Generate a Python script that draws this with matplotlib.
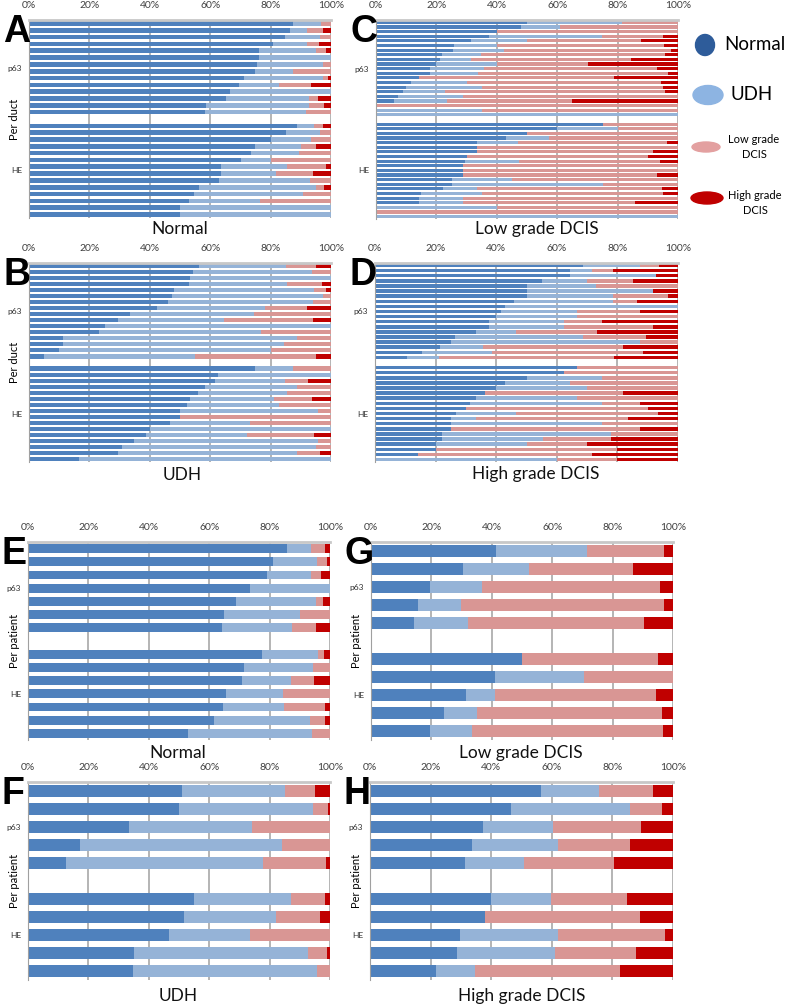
import numpy as np
import matplotlib
matplotlib.use("Agg")
import matplotlib.pyplot as plt
from matplotlib.patches import Ellipse

plt.rcParams['font.family'] = ['Lato', 'DejaVu Sans']

# segment order: Normal, UDH, Low grade DCIS, High grade DCIS (percent)
categories = ['Normal', 'UDH', 'Low grade\nDCIS', 'High grade\nDCIS']
colors = ['#4F81BD', '#95B3D7', '#D99694', '#C00000']
xticks = [0, 20, 40, 60, 80, 100]
xtick_labels = ['0%', '20%', '40%', '60%', '80%', '100%']

# ---- per duct ----
a_p63 = [[87.5, 9.2, 3.3, 0], [86.5, 5.5, 5.2, 2.8], [84.7, 11.7, 3.6, 0], [80.9, 11.3, 3.7, 4.1],
         [76.3, 18.6, 3.4, 1.7], [76.0, 24.0, 0, 0], [75.4, 21.8, 2.8, 0], [74.9, 12.5, 12.6, 0],
         [71.3, 25.9, 1.8, 1.0], [69.6, 13.1, 10.8, 6.5], [66.7, 33.3, 0, 0], [65.2, 27.6, 2.9, 4.3],
         [58.5, 34.3, 4.9, 2.3], [58.3, 33.4, 8.3, 0]]
a_he = [[88.6, 5.8, 2.8, 2.8], [85.1, 11.3, 3.6, 0], [80.0, 13.5, 6.5, 0], [74.9, 15.3, 4.8, 5.0],
        [73.6, 15.9, 10.5, 0], [70.1, 9.9, 20.0, 0], [63.6, 21.9, 12.8, 1.7], [63.6, 18.2, 12.1, 6.1],
        [62.8, 30.2, 7.0, 0], [56.2, 38.8, 2.7, 2.3], [54.5, 36.3, 9.2, 0], [53.0, 23.5, 23.5, 0],
        [50, 50, 0, 0], [50, 50, 0, 0]]

b_p63 = [[56.3, 28.7, 10.0, 5.0], [54.3, 39.3, 6.4, 0], [53.3, 46.7, 0, 0], [53.0, 32.3, 11.8, 2.9],
         [48.0, 46.4, 3.8, 1.8], [47.2, 50.3, 2.5, 0], [46.0, 48.2, 5.8, 0], [42.3, 36.0, 13.9, 7.8],
         [33.3, 41.2, 25.5, 0], [29.4, 35.3, 29.5, 5.8], [25.0, 75.0, 0, 0], [23.3, 53.4, 23.3, 0],
         [11.4, 77.2, 11.4, 0], [11.4, 73.1, 15.5, 0], [10.0, 70.0, 20.0, 0], [5.0, 50.0, 40.0, 5.0]]
b_he = [[74.9, 12.5, 12.6, 0], [62.5, 37.5, 0, 0], [61.6, 23.2, 7.5, 7.7], [58.4, 30.5, 11.1, 0],
        [56.0, 29.3, 14.7, 0], [53.2, 28.0, 12.6, 6.2], [52.2, 30.5, 17.3, 0], [50.0, 45.6, 4.4, 0],
        [50.0, 0, 50.0, 0], [46.7, 26.6, 26.7, 0], [40.0, 60.0, 0, 0], [38.9, 33.4, 22.1, 5.6],
        [34.8, 61.0, 4.2, 0], [30.8, 64.2, 5.0, 0], [29.6, 59.3, 7.5, 3.6], [16.7, 83.3, 0, 0]]

c_p63 = [[50.0, 31.3, 18.7, 0], [47.9, 13.0, 39.1, 0], [40.0, 0, 60.0, 0], [37.5, 37.3, 20.3, 4.9],
         [31.3, 18.7, 37.7, 12.3], [25.7, 14.3, 55.5, 4.5], [25.4, 16.9, 55.5, 2.2], [21.9, 13.0, 60.9, 4.2],
         [21.2, 10.4, 52.8, 15.6], [19.9, 20.1, 30.1, 29.9], [17.9, 17.8, 57.3, 7.0], [17.9, 16.0, 62.7, 3.4],
         [14.2, 0, 64.5, 21.3], [11.5, 18.6, 64.3, 5.6], [10.0, 25.0, 60.0, 5.0], [9.0, 13.7, 72.9, 4.4],
         [7.2, 21.5, 71.3, 0], [6.0, 17.5, 41.3, 35.2], [0, 0, 100, 0], [0, 35.0, 65.0, 0], [0, 100, 0, 0]]
c_he = [[75.0, 0, 25.0, 0], [60.0, 20.0, 20.0, 0], [50.0, 0, 50.0, 0], [42.9, 14.4, 42.7, 0],
        [33.4, 13.5, 49.6, 3.5], [33.4, 0, 66.6, 0], [33.4, 0, 58.4, 8.2], [30.0, 0, 60.2, 9.8],
        [29.5, 17.7, 46.8, 6.0], [28.7, 0, 71.3, 0], [28.7, 0, 71.3, 0], [28.7, 0, 64.5, 6.8],
        [25.0, 20.0, 55.0, 0], [25.0, 50.0, 25.0, 0], [22.3, 11.1, 61.2, 5.4], [15.0, 20.0, 60.0, 5.0],
        [14.1, 14.6, 71.3, 0], [14.1, 14.6, 57.1, 14.2], [0, 40.0, 60.0, 0], [0, 0, 100, 0], [0, 100, 0, 0]]

d_p63 = [[68.8, 18.7, 6.3, 6.2], [64.3, 7.3, 7.0, 21.4], [64.3, 28.5, 0, 7.2], [55.0, 14.9, 15.1, 15.0],
         [50.0, 23.0, 27.0, 0], [50.0, 41.7, 0, 8.3], [50.0, 28.7, 18.0, 3.3], [46.0, 32.5, 8.0, 13.5],
         [42.9, 57.1, 0, 0], [41.6, 25.0, 20.9, 12.5], [39.9, 26.7, 33.4, 0], [37.6, 24.9, 12.5, 25.0],
         [37.6, 24.9, 29.2, 8.3], [33.3, 13.2, 26.7, 26.8], [26.4, 42.1, 21.0, 10.5], [25.0, 62.5, 12.5, 0],
         [21.4, 14.3, 46.3, 18.0], [15.4, 23.1, 49.9, 11.6], [10.6, 10.5, 57.8, 21.1]]
d_he = [[66.7, 0, 33.3, 0], [62.5, 0, 37.5, 0], [50.0, 25.0, 25.0, 0], [42.9, 21.5, 35.6, 0],
        [39.9, 30.0, 30.1, 0], [36.4, 0, 45.4, 18.2], [33.3, 33.4, 33.3, 0], [31.2, 43.8, 12.5, 12.5],
        [30.0, 0, 60.0, 10.0], [26.7, 19.8, 46.9, 6.6], [25.0, 8.3, 50.1, 16.6], [25.0, 50.0, 25.0, 0],
        [25.0, 0, 62.5, 12.5], [22.2, 55.6, 22.2, 0], [22.2, 33.4, 22.2, 22.2], [20.0, 30.0, 19.9, 30.1],
        [20.0, 0, 60.0, 20.0], [14.1, 0, 57.5, 28.4], [0, 60.0, 20.0, 20.0]]

# ---- per patient ----
e_p63 = [[85.8, 7.9, 4.8, 1.5], [81.1, 14.7, 3.3, 0.9], [79.3, 14.4, 3.3, 3.0], [73.5, 26.5, 0, 0],
         [68.9, 26.5, 2.3, 2.3], [65.0, 25.0, 10.0, 0], [64.4, 23.0, 8.0, 4.6]]
e_he = [[77.5, 18.4, 2.1, 2.0], [71.4, 22.9, 5.7, 0], [71.0, 16.1, 7.5, 5.4], [65.6, 18.9, 15.5, 0],
        [64.6, 20.1, 13.8, 1.5], [61.6, 31.8, 4.9, 1.7], [53.0, 41.0, 6.0, 0]]

f_p63 = [[50.9, 34.2, 10.0, 4.9], [50.1, 44.4, 4.9, 0.6], [33.3, 41.0, 25.7, 0],
         [17.3, 66.8, 15.9, 0], [12.6, 65.2, 20.8, 1.4]]
f_he = [[54.9, 32.2, 11.2, 1.7], [51.6, 30.6, 14.6, 3.2], [46.7, 26.7, 26.6, 0],
        [35.1, 57.7, 6.2, 1.0], [34.8, 60.8, 4.4, 0]]

g_p63 = [[41.3, 30.3, 25.3, 3.1], [30.4, 21.9, 34.6, 13.1], [19.6, 17.3, 58.7, 4.4],
         [15.7, 14.1, 67.1, 3.1], [14.3, 17.7, 58.5, 9.5]]
g_he = [[50.0, 0, 45.1, 4.9], [41.2, 29.4, 29.4, 0], [31.4, 9.8, 53.1, 5.7],
        [24.1, 11.1, 61.3, 3.5], [19.4, 13.9, 63.3, 3.4]]

h_p63 = [[56.4, 19.3, 17.8, 6.5], [46.4, 39.3, 10.8, 3.5], [37.4, 23.1, 28.8, 10.7],
         [33.8, 28.1, 24.0, 14.1], [31.3, 19.4, 29.9, 19.4]]
h_he = [[40.0, 19.9, 25.0, 15.1], [37.9, 0, 51.2, 10.9], [29.6, 32.5, 35.1, 2.8],
        [28.6, 32.6, 26.5, 12.3], [21.7, 13.0, 47.9, 17.4]]

W, H = 787, 1007
fig = plt.figure(figsize=(W / 100, H / 100), dpi=100)


def add_axes_px(x0, top, x1, bottom):
    return fig.add_axes([x0 / W, 1 - bottom / H, (x1 - x0) / W, (bottom - top) / H])


def draw_panel(ax, p63, he):
    n = len(p63)
    ypos = list(range(n)) + list(range(n + 1, 2 * n + 1))
    data = np.array(p63 + he, dtype=float)
    left = np.zeros(len(data))
    for k in range(4):
        ax.barh(ypos, data[:, k], left=left, height=0.68, color=colors[k], linewidth=0, zorder=2)
        left += data[:, k]
    ax.set_xlim(0, 100)
    ax.set_ylim(2 * n + 0.5, -0.5)
    ax.set_xticks(xticks)
    ax.set_xticklabels(xtick_labels, fontsize=7.5, color='#404040')
    ax.xaxis.tick_top()
    ax.tick_params(axis='x', length=0, pad=7)
    ax.set_yticks([(n - 1) / 2, n + 1 + (n - 1) / 2])
    ax.set_yticklabels(['p63', 'HE'], fontsize=6, color='#303030')
    ax.tick_params(axis='y', length=0, pad=5)
    ax.grid(axis='x', color='#A0A0A0', lw=1.1, zorder=0)
    ax.set_axisbelow(True)
    for s in ['right', 'bottom']:
        ax.spines[s].set_visible(False)
    ax.spines['left'].set_color('#A0A0A0')
    ax.spines['top'].set_color('#C8C8C8')
    ax.spines['top'].set_linewidth(2)


panels = [
    ('A', a_p63, a_he, (29, 20, 331, 218), 'Normal', (180, 229), 'Per duct'),
    ('C', c_p63, c_he, (376, 20, 678, 219), 'Low grade DCIS', (537, 229), None),
    ('B', b_p63, b_he, (29, 263, 331, 462), 'UDH', (182, 475), 'Per duct'),
    ('D', d_p63, d_he, (375, 263, 678, 462), 'High grade DCIS', (536, 474), None),
    ('E', e_p63, e_he, (28, 542, 330, 740), 'Normal', (178, 753), 'Per patient'),
    ('G', g_p63, g_he, (371, 542, 673, 740), 'Low grade DCIS', (521, 753), 'Per patient'),
    ('F', f_p63, f_he, (28, 782, 330, 980), 'UDH', (178, 996), 'Per patient'),
    ('H', h_p63, h_he, (370, 782, 673, 980), 'High grade DCIS', (522, 996), 'Per patient'),
]

# overlay in pixel coordinates for letters, titles, legend
ov = fig.add_axes([0, 0, 1, 1], zorder=5)
ov.set_xlim(0, W)
ov.set_ylim(H, 0)
ov.axis('off')
ov.patch.set_alpha(0)

for letter, p63, he, box, title, tpos, ylab in panels:
    ax = add_axes_px(*box)
    draw_panel(ax, p63, he)
    ov.text(box[0] - 26, box[1] - 6, letter, fontsize=27, fontweight='bold',
            family=['Liberation Sans', 'DejaVu Sans'], ha='left', va='top')
    ov.text(tpos[0], tpos[1], title, fontsize=12.5, ha='center', va='center', color='#111111')
    if ylab:
        ymid = (box[1] + box[3]) / 2
        ov.text(box[0] - 14, ymid, ylab, fontsize=8, rotation=90, ha='center', va='center')

# legend blobs
ov.add_patch(Ellipse((705, 45), 19, 21, color='#2E5C9A'))
ov.add_patch(Ellipse((708, 95), 30, 19, color='#8DB4E2'))
ov.add_patch(Ellipse((706, 147), 28, 10, color='#E3A0A0'))
ov.add_patch(Ellipse((707, 198), 32, 12, color='#C00000'))
ov.text(755, 45, categories[0], fontsize=13.5, ha='center', va='center')
ov.text(752, 95, categories[1], fontsize=13.5, ha='center', va='center')
ov.text(754, 147, categories[2], fontsize=8, ha='center', va='center', linespacing=1.5)
ov.text(755, 203, categories[3], fontsize=8, ha='center', va='center', linespacing=1.5)

fig.savefig('out.png', dpi=100)
